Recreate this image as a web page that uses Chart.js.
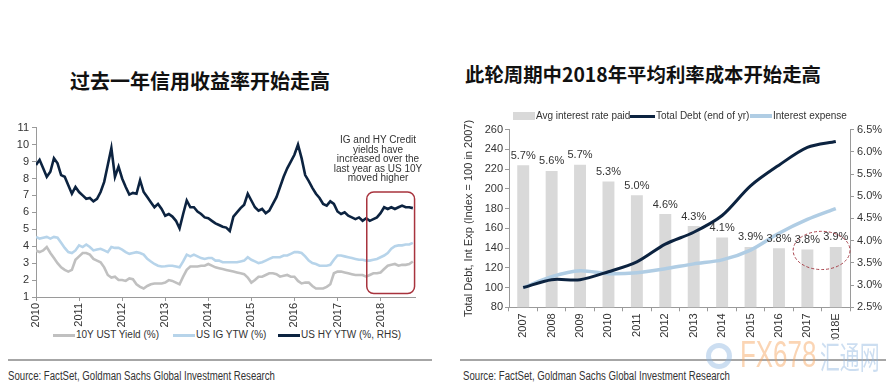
<!DOCTYPE html>
<html><head><meta charset="utf-8">
<script src="https://cdn.jsdelivr.net/npm/chart.js@4.4.0/dist/chart.umd.min.js"></script>
<style>
body{margin:0;width:890px;height:386px;background:#fff;position:relative;overflow:hidden;font-family:Arial,"Liberation Sans",sans-serif;color:#333;}
.abs{position:absolute;}
.title{font-family:"Noto Sans CJK SC","Noto Sans CJK JP",sans-serif;font-weight:700;font-size:20px;color:#111;white-space:nowrap;}
.leg{font-size:10px;white-space:nowrap;color:#333;line-height:12px;}
.leg2{font-size:10px;white-space:nowrap;color:#333;line-height:12px;}
.sw{display:inline-block;position:absolute;}
.src{font-family:Arial,sans-serif;font-size:12.5px;color:#333;white-space:nowrap;transform:scaleX(0.77);transform-origin:0 50%;}
.sep{height:2px;background:#a6a6a6;}
.note{font-size:10px;line-height:9.6px;text-align:center;color:#333;white-space:nowrap;}
</style></head>
<body>
<div class="abs title" style="left:70px;top:66px;">过去一年信用收益率开始走高</div>
<div class="abs title" style="left:465px;top:59px;font-size:19.4px;">此轮周期中2018年平均利率成本开始走高</div>

<div class="abs" style="left:0;top:110px;width:445px;height:217px;"><canvas id="c1" width="445" height="217"></canvas></div>
<div class="abs" style="left:458px;top:120px;width:432px;height:220px;"><canvas id="c2" width="432" height="220"></canvas></div>

<div class="abs note" style="left:328px;top:135px;width:100px;">IG and HY Credit<br>yields have<br>increased over the<br>last year as US 10Y<br>moved higher</div>

<div class="abs sw" style="left:53px;top:334px;width:22px;height:3px;background:#c0c0c0"></div>
<div class="abs leg" style="left:76px;top:329px;">10Y UST Yield (%)</div>
<div class="abs sw" style="left:173px;top:334px;width:22px;height:3px;background:#b7d4ea"></div>
<div class="abs leg" style="left:196px;top:329px;">US IG YTW (%)</div>
<div class="abs sw" style="left:278px;top:334px;width:22px;height:3px;background:#0c2340"></div>
<div class="abs leg" style="left:301px;top:329px;">US HY YTW (%, RHS)</div>

<div class="abs sw" style="left:513px;top:112px;width:22px;height:8px;background:#d9d9d9"></div>
<div class="abs leg2" style="left:536px;top:110px;">Avg interest rate paid</div>
<div class="abs sw" style="left:630px;top:115px;width:25px;height:3px;background:#0c2340"></div>
<div class="abs leg2" style="left:656px;top:110px;">Total Debt (end of yr)</div>
<div class="abs sw" style="left:750px;top:114px;width:22px;height:4px;background:#b0cde4"></div>
<div class="abs leg2" style="left:773px;top:110px;">Interest expense</div>

<div class="abs sep" style="left:8px;top:359px;width:424px;"></div>
<div class="abs sep" style="left:460px;top:359px;width:426px;"></div>
<div class="abs src" style="left:8px;top:369px;">Source: FactSet, Goldman Sachs Global Investment Research</div>
<div class="abs src" style="left:463px;top:369px;">Source: FactSet, Goldman Sachs Global Investment Research</div>

<div class="abs" style="left:706px;top:343px;width:26px;height:26px;border-radius:50%;border:5px solid #8fb6e0;box-sizing:border-box;opacity:0.45;"></div>
<div class="abs" style="left:740px;top:334px;opacity:0.45;font-family:Arial,sans-serif;font-size:36px;line-height:42px;color:#f5a25a;transform:scaleX(0.72);transform-origin:0 50%;white-space:nowrap;">FX678</div>
<div class="abs" style="left:820px;top:334px;opacity:0.45;font-family:'Noto Sans CJK SC',sans-serif;font-size:32px;line-height:42px;color:#8fb6e0;transform:scaleX(0.62);transform-origin:0 50%;white-space:nowrap;">汇通网</div>

<script>
// ---------- Left chart data (monthly, starting Jan 2010) ----------
const leftStartYear = 2010;
const leftYearTicks = ['2010','2011','2012','2013','2014','2015','2016','2017','2018'];
const leftYTicks = [1,2,3,4,5,6,7,8,9,10,11];
const ust10y = [3.75,3.65,3.75,3.95,3.6,3.3,3.0,2.75,2.6,2.5,2.6,3.2,
 3.4,3.6,3.6,3.5,3.25,3.15,3.05,2.75,2.3,2.15,2.2,2.0,
 2.0,1.95,2.1,2.05,1.75,1.6,1.5,1.65,1.75,1.8,1.8,1.8,
 1.85,2.0,1.95,1.85,1.75,2.2,2.6,2.8,2.8,2.8,2.85,2.85,
 2.95,2.85,2.75,2.7,2.65,2.6,2.55,2.5,2.45,2.4,2.35,2.15,
 1.85,2.0,2.2,2.2,2.3,2.4,2.4,2.35,2.2,2.25,2.3,2.2,
 2.2,1.95,1.8,1.85,1.85,1.65,1.5,1.5,1.5,1.6,1.75,2.4,
 2.5,2.5,2.45,2.4,2.35,2.3,2.3,2.3,2.2,2.3,2.4,2.4,
 2.45,2.65,2.85,2.9,2.95,2.85,2.9,2.9,2.95,3.1];
const usIG = [4.55,4.45,4.5,4.55,4.45,4.55,4.5,4.2,3.9,3.65,3.6,3.75,
 4.05,3.95,4.1,3.95,3.75,3.8,3.85,3.75,3.65,3.95,3.9,3.9,
 3.8,3.65,3.55,3.6,3.65,3.6,3.5,3.25,3.1,2.95,2.85,2.8,
 2.82,2.85,2.85,2.8,2.75,3.1,3.5,3.4,3.5,3.4,3.3,3.25,
 3.3,3.3,3.15,3.15,3.05,3.05,3.05,3.05,3.05,3.1,3.15,3.35,
 3.2,3.1,3.0,3.05,3.15,3.25,3.35,3.35,3.35,3.45,3.45,3.55,
 3.65,3.65,3.6,3.4,3.15,3.0,2.95,2.85,2.85,2.85,2.9,3.2,
 3.45,3.45,3.4,3.35,3.3,3.25,3.2,3.2,3.15,3.15,3.2,3.25,
 3.35,3.45,3.6,3.85,4.0,4.05,4.05,4.1,4.1,4.2];
const usHY = [8.8,9.1,8.6,8.1,8.4,9.2,8.9,8.2,8.1,7.6,7.1,7.5,
 7.2,7.0,6.8,6.85,6.65,6.8,7.2,7.8,8.8,9.8,8.1,8.7,
 8.0,7.5,7.05,7.15,7.1,7.9,7.2,6.9,6.6,6.3,6.5,6.2,
 5.8,5.9,5.75,5.5,5.05,5.9,6.7,6.3,6.3,6.05,5.9,5.7,
 5.65,5.5,5.35,5.25,5.15,5.1,4.9,5.75,6.0,6.25,6.45,7.1,
 6.7,6.3,6.1,6.2,5.95,6.1,6.5,6.9,7.5,8.1,8.6,9.0,
 9.4,10.0,9.2,8.2,7.85,7.45,7.1,6.85,6.5,6.4,6.65,6.5,
 6.05,5.9,6.0,5.8,5.7,5.6,5.7,5.5,5.65,5.5,5.6,5.7,
 5.95,6.3,6.2,6.3,6.2,6.3,6.4,6.3,6.3,6.25];
const boxYears = [2017.68, 2018.79];   // annotation box extent (x)
const boxValues = [7.2, 1.2];          // annotation box extent (y)

// ---------- Right chart data ----------
const years = ['2007','2008','2009','2010','2011','2012','2013','2014','2015','2016','2017','2018E'];
const avgRate = [5.70,5.57,5.71,5.33,5.02,4.60,4.33,4.07,3.86,3.83,3.80,3.86];
const totalDebt = [100,108,108,116,126,144,156,173,203,224,242,248];
const interestExp = [100,111,117,114,115,119,124,128,138,155,169,180];
const ellipseRate = 3.78, ellipseHalfRate = 0.43;

const AX = '#9a9a9a', TXT = '#333';
const toXY = arr => arr.map((v,i)=>({x: leftStartYear + i/12, y: v}));

const boxPlugin = {
  id:'box',
  afterDatasetsDraw(chart){
    const {ctx, scales:{x,y}} = chart;
    const x0 = x.getPixelForValue(boxYears[0]), x1 = x.getPixelForValue(boxYears[1]);
    const y0 = y.getPixelForValue(boxValues[0]), y1 = y.getPixelForValue(boxValues[1]);
    ctx.save(); ctx.strokeStyle='#a8333d'; ctx.lineWidth=1.5;
    ctx.beginPath(); ctx.roundRect(x0,y0,x1-x0,y1-y0,7); ctx.stroke(); ctx.restore();
  }
};

new Chart(document.getElementById('c1'), {
  type:'line',
  data:{datasets:[
    {label:'US HY YTW (%, RHS)', data: toXY(usHY), borderColor:'#0c2340', borderWidth:2.6, pointRadius:0, tension:0, order:1},
    {label:'US IG YTW (%)', data: toXY(usIG), borderColor:'#b7d4ea', borderWidth:2.6, pointRadius:0, tension:0, order:2},
    {label:'10Y UST Yield (%)', data: toXY(ust10y), borderColor:'#c0c0c0', borderWidth:2.6, pointRadius:0, tension:0, order:3}
  ]},
  options:{
    responsive:false, animation:false, events:[],
    layout:{padding:{left:0,right:30,top:17.7,bottom:0}},
    plugins:{legend:{display:false}, tooltip:{enabled:false}},
    scales:{
      x:{type:'linear', min:2010, max:2018.8,
        afterBuildTicks:s=>{ s.ticks = leftYearTicks.map(v=>({value:+v})); },
        afterFit:s=>{ s.height = 30; },
        ticks:{autoSkip:false, minRotation:90, maxRotation:90, color:TXT, font:{size:11, family:'Arial'}, padding:2, callback:v=>String(v)},
        grid:{display:true, drawOnChartArea:false, tickLength:4, color:AX},
        border:{display:true, color:AX}},
      y:{min:1, max:11,
        afterBuildTicks:s=>{ s.ticks = leftYTicks.map(v=>({value:v})); },
        afterFit:s=>{ s.width = 36; },
        ticks:{color:TXT, font:{size:11, family:'Arial'}, padding:3},
        grid:{display:true, drawOnChartArea:false, tickLength:4, color:AX},
        border:{display:true, color:AX}}
    }
  },
  plugins:[boxPlugin]
});

const barLabelPlugin = {
  id:'barLabels',
  afterDatasetsDraw(chart){
    const meta = chart.getDatasetMeta(2);
    const ctx = chart.ctx; ctx.save();
    ctx.font = '11px Arial'; ctx.fillStyle = TXT; ctx.textAlign='center'; ctx.textBaseline='bottom';
    meta.data.forEach((bar,i)=>{ ctx.fillText(avgRate[i].toFixed(1)+'%', bar.x, bar.y-4); });
    ctx.restore();
  }
};
const ellipsePlugin = {
  id:'ellipse',
  afterDraw(chart){
    const {ctx, scales:{x, y1}} = chart;
    const cx = (x.getPixelForValue(10)+x.getPixelForValue(11))/2;
    const rx = x.getPixelForValue(11)-x.getPixelForValue(10);
    const cy = y1.getPixelForValue(ellipseRate);
    const ry = y1.getPixelForValue(ellipseRate-ellipseHalfRate) - cy;
    ctx.save(); ctx.strokeStyle='#a8434c'; ctx.lineWidth=1; ctx.setLineDash([3,2]);
    ctx.beginPath(); ctx.ellipse(cx,cy,rx,ry,0,0,Math.PI*2); ctx.stroke(); ctx.restore();
  }
};

new Chart(document.getElementById('c2'), {
  type:'bar',
  data:{labels: years, datasets:[
    {type:'line', label:'Total Debt (end of yr)', data: totalDebt, yAxisID:'y', borderColor:'#0c2340', borderWidth:3, pointRadius:0, tension:0.3, order:1},
    {type:'line', label:'Interest expense', data: interestExp, yAxisID:'y', borderColor:'#b0cde4', borderWidth:3.5, pointRadius:0, tension:0.3, order:2},
    {type:'bar', label:'Avg interest rate paid', data: avgRate, yAxisID:'y1', backgroundColor:'#d9d9d9', categoryPercentage:1, barPercentage:0.42, order:3}
  ]},
  options:{
    responsive:false, animation:false, events:[],
    layout:{padding:{left:0,right:0,top:7.3,bottom:0}},
    plugins:{legend:{display:false}, tooltip:{enabled:false}},
    scales:{
      x:{afterFit:s=>{ s.height = 32.7; },
        ticks:{autoSkip:false, minRotation:90, maxRotation:90, color:TXT, font:{size:11, family:'Arial'}, padding:2},
        grid:{display:true, drawOnChartArea:false, tickLength:4, color:AX, offset:true},
        border:{display:true, color:AX}},
      y:{position:'left', min:80, max:260,
        afterFit:s=>{ s.width = 51; },
        ticks:{stepSize:20, color:TXT, font:{size:11, family:'Arial'}, padding:2},
        title:{display:true, text:'Total Debt, Int Exp (Index = 100 in 2007)', color:TXT, font:{size:11, family:'Arial'}, padding:{top:4,bottom:0}},
        grid:{display:true, drawOnChartArea:false, tickLength:4, color:AX},
        border:{display:true, color:AX}},
      y1:{position:'right', min:2.5, max:6.5,
        afterFit:s=>{ s.width = 40; },
        ticks:{stepSize:0.5, color:TXT, font:{size:11, family:'Arial'}, padding:3, callback:v=>v.toFixed(1)+'%'},
        grid:{display:true, drawOnChartArea:false, tickLength:4, color:AX},
        border:{display:true, color:AX}}
    }
  },
  plugins:[barLabelPlugin, ellipsePlugin]
});
</script>
</body></html>
